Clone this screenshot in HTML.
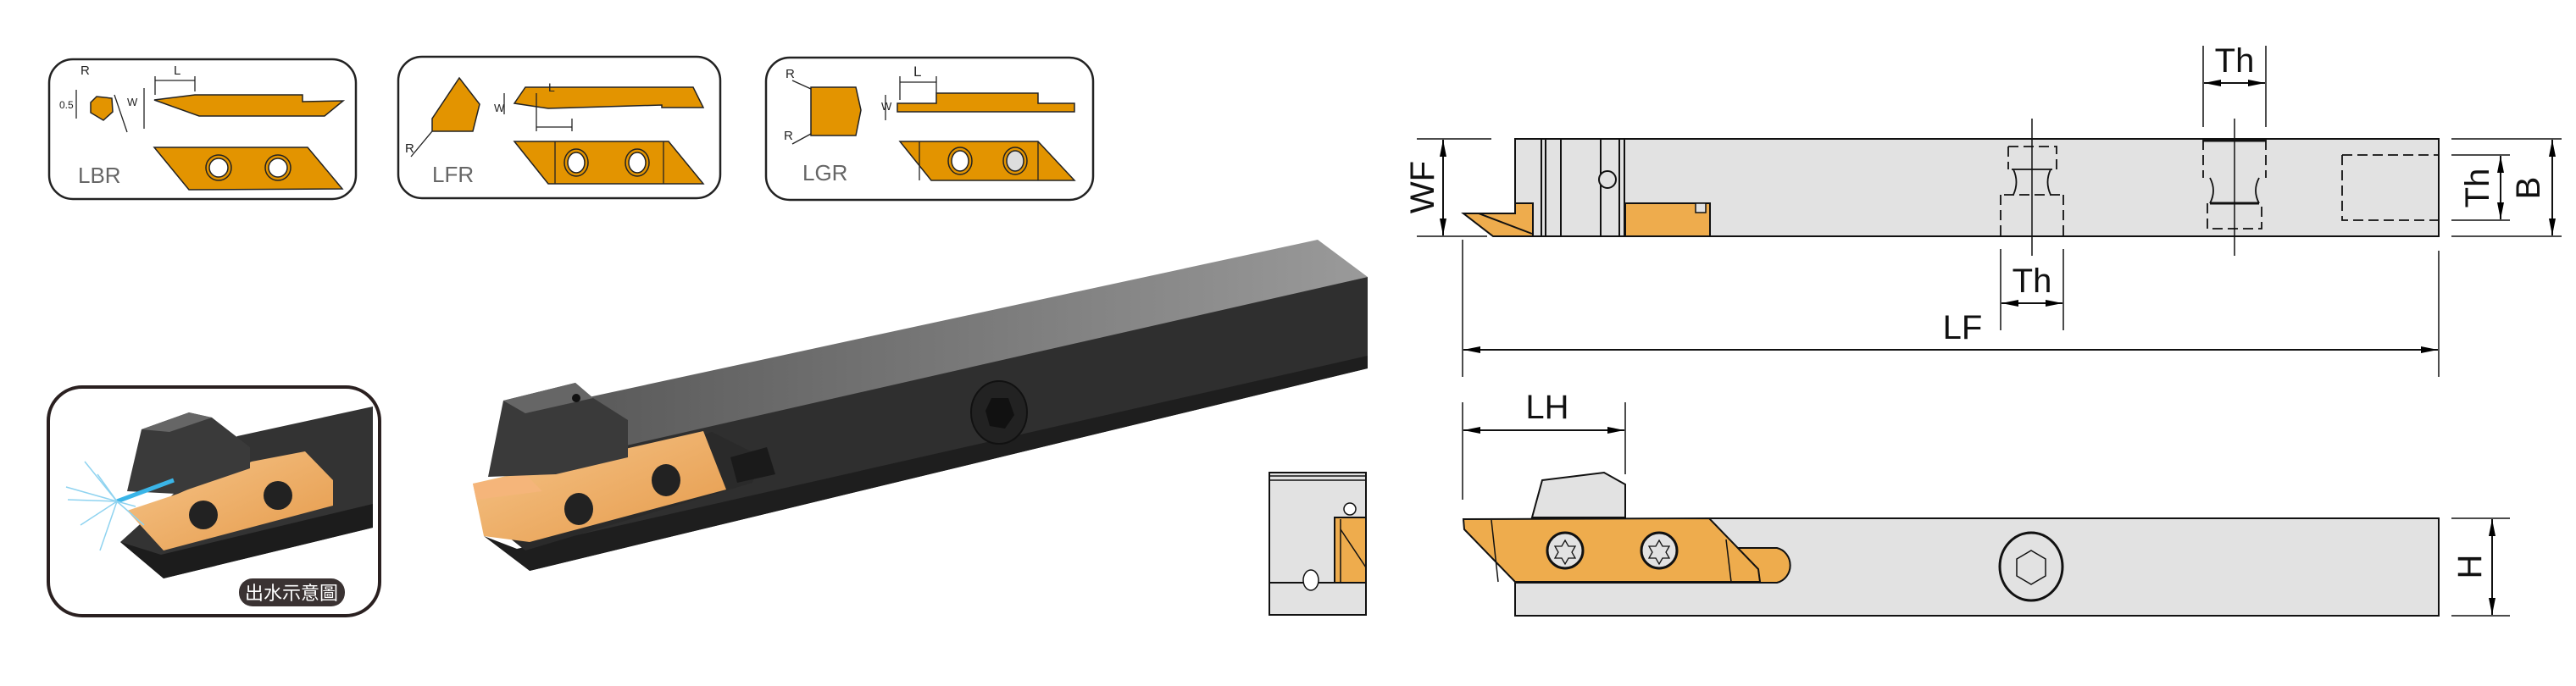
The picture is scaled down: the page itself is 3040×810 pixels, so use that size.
<!DOCTYPE html>
<html><head><meta charset="utf-8"><style>
html,body{margin:0;padding:0;background:#fff;}
svg{display:block;}
text{font-family:"Liberation Sans","Noto Sans CJK TC",sans-serif;}
</style></head><body>
<svg width="3040" height="810" viewBox="0 0 3040 810" xmlns="http://www.w3.org/2000/svg">
<defs>
<marker id="ar" viewBox="0 0 20 8" refX="20" refY="4" markerWidth="20" markerHeight="8" orient="auto-start-reverse" markerUnits="userSpaceOnUse"><path d="M0,0 L20,4 L0,8 z" fill="#000"/></marker>
<linearGradient id="topg" x1="0" y1="0" x2="1" y2="0"><stop offset="0" stop-color="#5a5a5a"/><stop offset="1" stop-color="#9a9a9a"/></linearGradient>
<linearGradient id="ing" x1="0" y1="0" x2="1" y2="1"><stop offset="0" stop-color="#f6c58a"/><stop offset="1" stop-color="#e59a4a"/></linearGradient>
</defs>

<!-- Insert boxes -->
<g stroke="#222" stroke-width="2.5" fill="none">
<rect x="58" y="70" width="362" height="165" rx="28"/>
<rect x="470" y="67" width="380" height="167" rx="28"/>
<rect x="904" y="68" width="386" height="168" rx="28"/>
</g>
<g fill="#e39400" stroke="#222" stroke-width="1.5">
<!-- LBR -->
<polygon points="107,121 114,114 132,116 133,132 122,142 107,133"/>
<polygon points="182,118 230,112 230,112 357,112 357,120 405,119 383,137 235,137"/>
<polygon points="182,174 363,174 404,223 223,224"/>
<!-- LFR -->
<polygon points="542,92 566,123 558,155 510,155 510,140"/>
<polygon points="620,103 818,103 830,127 781,127 781,124 647,128 607,122"/>
<polygon points="607,167 789,167 830,217 647,217"/>
<!-- LGR -->
<polygon points="957,103 1010,103 1016,130 1010,160 957,160"/>
<polygon points="1059,122 1105,122 1105,110 1225,110 1225,122 1268,122 1268,132 1059,132"/>
<polygon points="1062,167 1225,167 1268,213 1099,213"/>
</g>
<g fill="#fff" stroke="#222" stroke-width="1.5">
<circle cx="258" cy="198" r="15" fill="#e39400"/><circle cx="258" cy="198" r="11"/>
<circle cx="328" cy="198" r="15" fill="#e39400"/><circle cx="328" cy="198" r="11"/>
<ellipse cx="680" cy="192" rx="14" ry="16" fill="#e39400"/><ellipse cx="680" cy="192" rx="10" ry="12"/>
<ellipse cx="752" cy="192" rx="14" ry="16" fill="#e39400"/><ellipse cx="752" cy="192" rx="10" ry="12"/>
<ellipse cx="1133" cy="190" rx="14" ry="16" fill="#e39400"/><ellipse cx="1133" cy="190" rx="10" ry="12"/>
<ellipse cx="1198" cy="190" rx="14" ry="16" fill="#e39400"/><ellipse cx="1198" cy="190" rx="10" ry="12" fill="#ddd"/>
</g>
<g stroke="#222" stroke-width="1.3" fill="none">
<line x1="655" y1="167" x2="655" y2="217"/><line x1="783" y1="167" x2="783" y2="217"/>
<line x1="1085" y1="167" x2="1085" y2="213"/><line x1="1225" y1="167" x2="1225" y2="213"/>
<line x1="183" y1="90" x2="183" y2="112"/><line x1="230" y1="90" x2="230" y2="108"/><line x1="183" y1="95" x2="230" y2="95"/>
<line x1="170" y1="104" x2="170" y2="152"/><line x1="90" y1="106" x2="90" y2="140"/>
<line x1="135" y1="112" x2="150" y2="156" />
<line x1="633" y1="110" x2="633" y2="155"/><line x1="675" y1="140" x2="675" y2="155"/><line x1="633" y1="150" x2="675" y2="150"/>
<line x1="595" y1="110" x2="595" y2="135"/>
<line x1="1105" y1="90" x2="1105" y2="110"/><line x1="1062" y1="90" x2="1062" y2="118"/><line x1="1062" y1="97" x2="1105" y2="97"/>
<line x1="1045" y1="112" x2="1045" y2="142"/>
<line x1="935" y1="95" x2="957" y2="105"/><line x1="935" y1="170" x2="957" y2="158"/>
<line x1="485" y1="185" x2="510" y2="155"/>
</g>
<g fill="#222" font-size="15">
<text x="95" y="88">R</text><text x="205" y="88">L</text><text x="70" y="128" font-size="12">0.5</text><text x="150" y="125" font-size="13">W</text>
<text x="647" y="108" font-size="14">L</text><text x="583" y="132" font-size="13">W</text><text x="478" y="180">R</text>
<text x="1078" y="90" font-size="17">L</text><text x="1040" y="130" font-size="13">W</text><text x="927" y="92">R</text><text x="925" y="165">R</text>
</g>
<g fill="#666" font-size="26">
<text x="92" y="216">LBR</text><text x="510" y="215">LFR</text><text x="947" y="213">LGR</text>
</g>

<!-- Big 3D holder -->
<polygon points="690,470 1555,283 1614,327 740,532" fill="url(#topg)"/>
<polygon points="700,535 1614,327 1614,435 625,674 600,600" fill="#2f2f2f"/>
<polygon points="571,633 625,674 1614,435 1614,420 610,648" fill="#1e1e1e"/>
<ellipse cx="1179" cy="487" rx="33" ry="37" fill="#222" stroke="#111" stroke-width="2"/>
<polygon points="1170,470 1190,470 1197,490 1186,506 1168,503 1163,485" fill="#111"/>
<polygon points="572,612 840,510 860,520 900,540 888,570 620,650" fill="#2a2a2a"/>
<polygon points="558,571 830,509 857,578 625,640 571,633" fill="url(#ing)"/>
<polygon points="558,571 620,560 640,580 562,590" fill="#f5b57a"/>
<polygon points="594,473 679,452 700,470 741,496 741,540 656,560 576,563" fill="#3a3a3a"/>
<polygon points="594,473 679,452 700,470 620,488" fill="#666"/>
<circle cx="680" cy="470" r="5" fill="#111"/>
<ellipse cx="683" cy="601" rx="17" ry="19" fill="#222"/>
<ellipse cx="786" cy="567" rx="17" ry="19" fill="#222"/>
<polygon points="862,540 905,528 915,560 870,570" fill="#1a1a1a"/>

<!-- bottom-left box -->
<rect x="57" y="457" width="391" height="270" rx="40" fill="#fff" stroke="#2a2020" stroke-width="4"/>
<polygon points="280,515 440,480 440,623 193,683 142,640" fill="#333"/>
<polygon points="142,640 193,683 440,623 440,595 190,655" fill="#1c1c1c"/>
<polygon points="210,583 297,545 360,533 393,567 393,597 193,650 150,603" fill="url(#ing)"/>
<polygon points="167,507 223,487 250,493 295,528 295,553 207,583 150,580" fill="#3a3a3a"/>
<polygon points="167,507 223,487 250,493 200,510" fill="#666"/>
<circle cx="240" cy="608" r="17" fill="#222"/><circle cx="328" cy="585" r="17" fill="#222"/>
<line x1="138" y1="592" x2="205" y2="567" stroke="#3ab5e8" stroke-width="5"/>
<g stroke="#8fd3f0" stroke-width="1.5">
<line x1="138" y1="592" x2="100" y2="545"/><line x1="138" y1="592" x2="80" y2="590"/><line x1="138" y1="592" x2="95" y2="620"/>
<line x1="138" y1="592" x2="118" y2="650"/><line x1="138" y1="592" x2="170" y2="620"/><line x1="138" y1="592" x2="115" y2="560"/>
<line x1="138" y1="592" x2="160" y2="598"/><line x1="138" y1="592" x2="78" y2="575"/>
</g>
<rect x="282" y="683" width="125" height="33" rx="16" fill="#3a3232"/>
<text x="344" y="708" fill="#fff" font-size="22" text-anchor="middle">出水示意圖</text>

<!-- End view -->
<rect x="1498" y="558" width="114" height="168" fill="#e2e2e2" stroke="#111" stroke-width="2"/>
<line x1="1498" y1="562" x2="1612" y2="562" stroke="#111" stroke-width="1.5"/>
<line x1="1498" y1="567" x2="1612" y2="567" stroke="#111" stroke-width="1.5"/>
<line x1="1498" y1="688" x2="1612" y2="688" stroke="#111" stroke-width="2"/>
<rect x="1575" y="611" width="37" height="77" fill="#eeac4d" stroke="#111" stroke-width="2"/>
<line x1="1582" y1="613" x2="1582" y2="688" stroke="#111" stroke-width="1.5"/>
<line x1="1582" y1="625" x2="1612" y2="670" stroke="#111" stroke-width="1.5"/>
<circle cx="1593" cy="601" r="7" fill="#fff" stroke="#111" stroke-width="1.5"/>
<ellipse cx="1547" cy="685" rx="9" ry="12" fill="#fff" stroke="#111" stroke-width="1.5"/>

<!-- Top view -->
<g stroke="#111" stroke-width="2">
<rect x="1788" y="164" width="1090" height="115" fill="#e2e2e2"/>
<line x1="1819" y1="164" x2="1819" y2="279"/><line x1="1824" y1="164" x2="1824" y2="279"/>
<line x1="1842" y1="164" x2="1842" y2="279"/><line x1="1889" y1="164" x2="1889" y2="279"/>
<line x1="1911" y1="164" x2="1911" y2="279"/><line x1="1917" y1="164" x2="1917" y2="279"/>
<polygon points="1727,252 1788,252 1788,240 1809,240 1809,279 1762,279" fill="#eeac4d"/>
<line x1="1745" y1="252" x2="1808" y2="276"/>
<rect x="1918" y="240" width="100" height="39" fill="#eeac4d"/>
<rect x="2001" y="240" width="12" height="11" fill="#e2e2e2" stroke-width="1.5"/>
<circle cx="1897" cy="212" r="10" fill="#e2e2e2"/>
</g>
<g stroke="#111" stroke-width="1.8" fill="none" stroke-dasharray="12,6">
<path d="M2370,173 L2427,173 L2427,200 M2370,173 L2370,200"/>
<path d="M2361,230 L2361,279 M2435,230 L2435,279 M2365,230 L2431,230"/>
<path d="M2600,165 L2600,210 M2674,165 L2674,210 M2605,240 L2605,270 L2669,270 L2669,240"/>
<path d="M2764,183 L2878,183 M2764,183 L2764,260 L2878,260"/>
</g>
<g stroke="#111" stroke-width="1.8" fill="none">
<path d="M2376,200 Q2383,215 2376,230 M2420,200 Q2413,215 2420,230"/>
<line x1="2374" y1="200" x2="2422" y2="200"/>
<path d="M2608,210 Q2616,225 2608,240 M2666,210 Q2658,225 2666,240"/>
<line x1="2600" y1="166" x2="2674" y2="166" stroke-width="3"/>
<line x1="2608" y1="240" x2="2666" y2="240" stroke-width="3"/>
</g>
<g stroke="#111" stroke-width="1.5">
<line x1="2398" y1="140" x2="2398" y2="302"/><line x1="2637" y1="140" x2="2637" y2="302"/>
<line x1="2361" y1="294" x2="2361" y2="390"/><line x1="2435" y1="294" x2="2435" y2="390"/>
<line x1="2600" y1="54" x2="2600" y2="150"/><line x1="2674" y1="54" x2="2674" y2="150"/>
<line x1="1672" y1="164" x2="1760" y2="164"/><line x1="1672" y1="279" x2="1755" y2="279"/>
<line x1="2893" y1="164" x2="3023" y2="164"/><line x1="2893" y1="279" x2="3023" y2="279"/>
<line x1="2893" y1="183" x2="2962" y2="183"/><line x1="2893" y1="260" x2="2962" y2="260"/>
<line x1="1726" y1="283" x2="1726" y2="445"/><line x1="2878" y1="296" x2="2878" y2="445"/>
<line x1="1726" y1="475" x2="1726" y2="590"/><line x1="1918" y1="475" x2="1918" y2="560"/>
<line x1="2893" y1="612" x2="2962" y2="612"/><line x1="2893" y1="727" x2="2962" y2="727"/>
</g>
<g stroke="#111" stroke-width="2" marker-start="url(#ar)" marker-end="url(#ar)">
<line x1="1703" y1="165" x2="1703" y2="278"/>
<line x1="2951" y1="184" x2="2951" y2="259"/>
<line x1="3012" y1="165" x2="3012" y2="278"/>
<line x1="1727" y1="413" x2="2877" y2="413"/>
<line x1="2362" y1="358" x2="2434" y2="358"/>
<line x1="2601" y1="98" x2="2673" y2="98"/>
<line x1="1727" y1="508" x2="1917" y2="508"/>
<line x1="2941" y1="613" x2="2941" y2="726"/>
</g>
<g fill="#111" font-size="40">
<text x="2316" y="400" text-anchor="middle">LF</text>
<text x="2398" y="345" text-anchor="middle">Th</text>
<text x="2637" y="85" text-anchor="middle">Th</text>
<text x="1826" y="494" text-anchor="middle">LH</text>
<text transform="translate(1692,221) rotate(-90)" text-anchor="middle">WF</text>
<text transform="translate(2937,222) rotate(-90)" text-anchor="middle">Th</text>
<text transform="translate(2997,222) rotate(-90)" text-anchor="middle">B</text>
<text transform="translate(2928,669) rotate(-90)" text-anchor="middle">H</text>
</g>

<!-- Bottom side view -->
<g stroke="#111" stroke-width="2">
<polygon points="1788,688 1788,727 2878,727 2878,612 2017,612 2077,688" fill="#e2e2e2"/>
<path d="M2043,647 L2097,647 A20,21 0 0 1 2097,688 L2043,688 z" fill="#eeac4d"/>
<polygon points="1820,567 1893,558 1918,572 1918,611 1808,611" fill="#e2e2e2"/>
<polygon points="1727,613 2017,612 2075,672 2077,687 1788,687 1728,625" fill="#eeac4d"/>
<line x1="1760" y1="614" x2="1768" y2="687" stroke-width="1.5"/>
<line x1="2037" y1="637" x2="2043" y2="687" stroke-width="1.5"/>
<circle cx="1847" cy="650" r="21" fill="#e2e2e2" stroke-width="3"/>
<circle cx="1958" cy="650" r="21" fill="#e2e2e2" stroke-width="3"/>
<ellipse cx="2397" cy="669" rx="37" ry="40" fill="#e2e2e2" stroke-width="3"/>
<polygon points="2397,650 2414,660 2414,680 2397,690 2380,680 2380,660" fill="none" stroke-width="1.5"/>
</g>
<g fill="none" stroke="#111" stroke-width="1.3">
<path d="M1847,638 l4,7 8,0 -4,7 4,7 -8,0 -4,7 -4,-7 -8,0 4,-7 -4,-7 8,0 z"/>
<path d="M1958,638 l4,7 8,0 -4,7 4,7 -8,0 -4,7 -4,-7 -8,0 4,-7 -4,-7 8,0 z"/>
</g>
</svg>
</body></html>
